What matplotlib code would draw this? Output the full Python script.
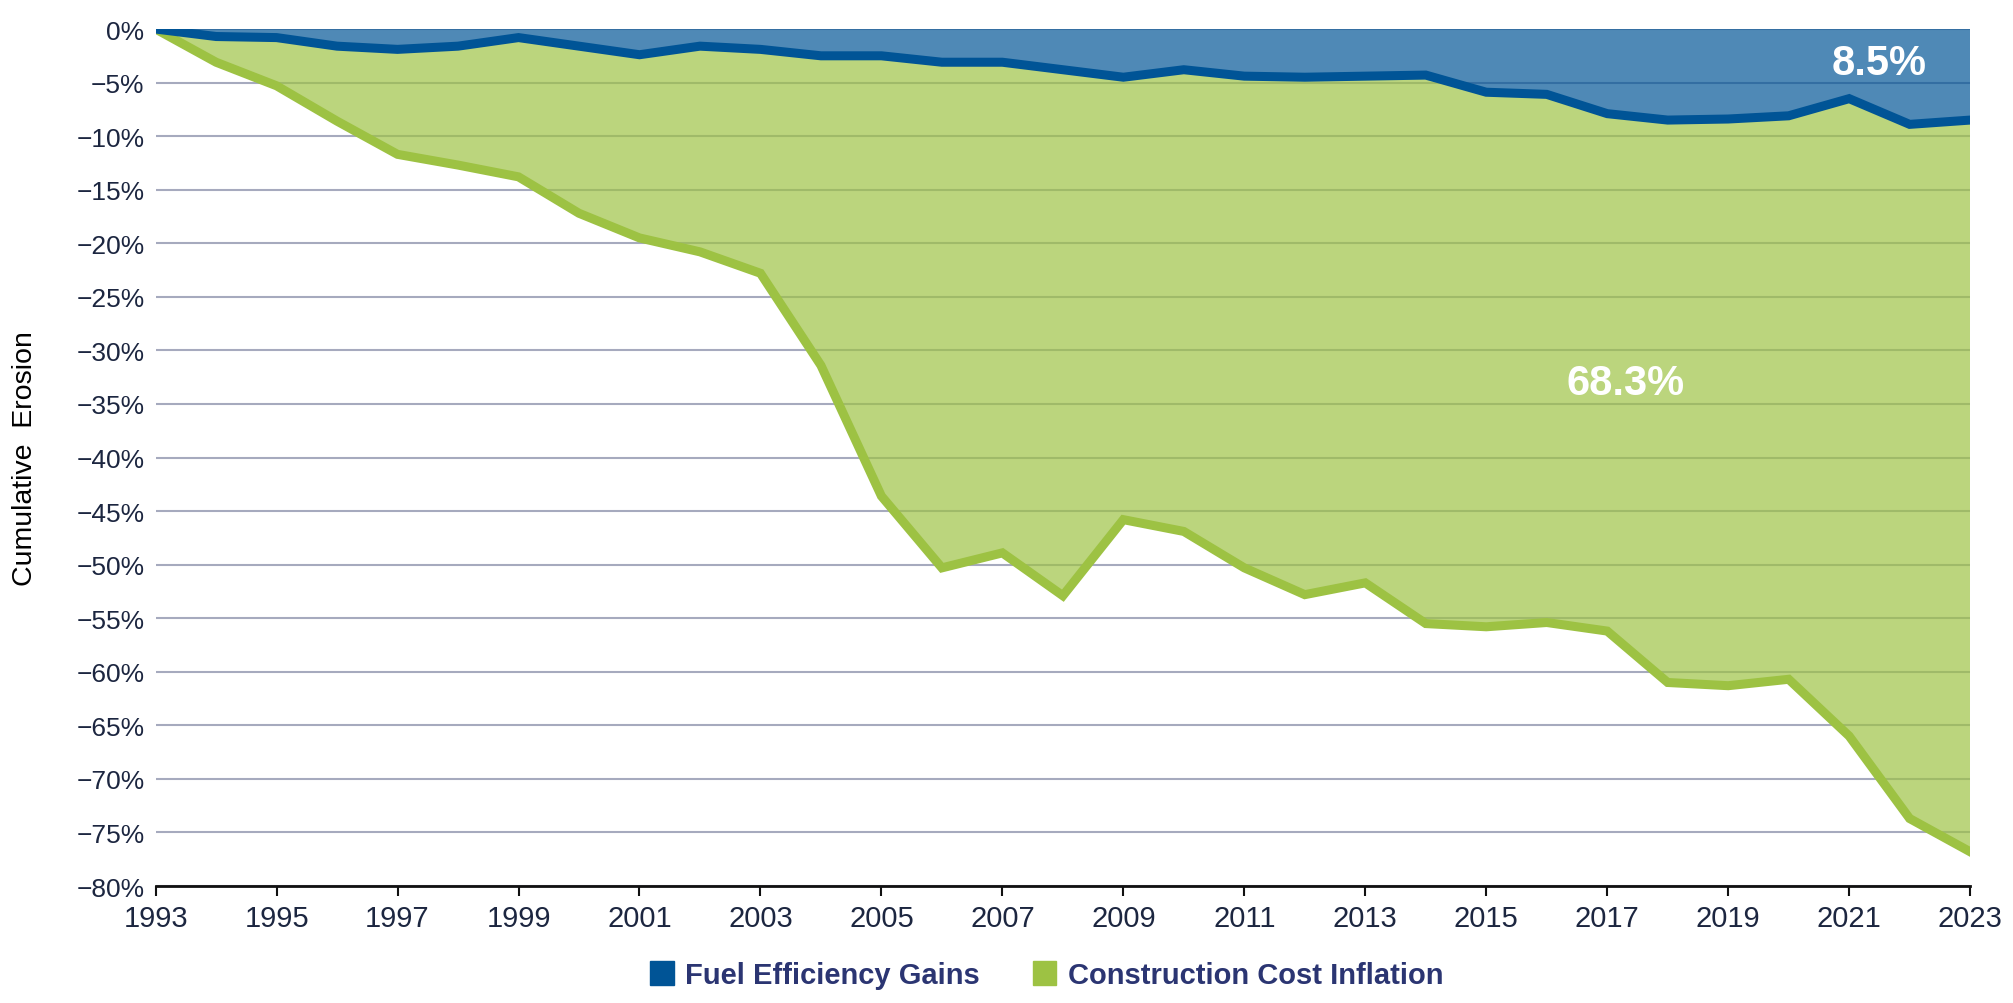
import matplotlib
matplotlib.use('Agg')
import matplotlib.pyplot as plt
from matplotlib.patches import Patch
from matplotlib.ticker import FuncFormatter

# data (cumulative erosion, %)
years = list(range(1993, 2024))
fuel_gains = [0, -0.7, -0.8, -1.6, -1.9, -1.6, -0.8, -1.6, -2.4, -1.6,
              -1.9, -2.5, -2.5, -3.1, -3.1, -3.8, -4.5, -3.8, -4.4, -4.5,
              -4.4, -4.3, -5.9, -6.1, -7.9, -8.5, -8.4, -8.1, -6.5, -8.9, -8.5]
construction_inflation = [0, -2.4, -4.5, -7.0, -9.8, -11.1, -13.0, -15.6, -17.1, -19.2,
                          -20.9, -28.9, -41.1, -47.2, -45.8, -49.1, -41.3, -43.1, -45.9, -48.3,
                          -47.3, -51.2, -49.9, -49.3, -48.3, -52.5, -52.9, -52.6, -59.5, -64.8, -68.3]
series_names = ['Fuel Efficiency Gains', 'Construction Cost Inflation']
xtick_years = list(range(1993, 2024, 2))
ytick_values = list(range(0, -85, -5))

blue = '#005496'
green = '#9dc243'
label_col = '#1c2640'

plt.rcParams['font.family'] = ['Liberation Sans Narrow', 'Liberation Sans', 'DejaVu Sans']

fig = plt.figure(figsize=(20.13, 10.04), dpi=100)
ax = fig.add_axes([0.0773, 0.1165, 0.9014, 0.8536])

total = [f + c for f, c in zip(fuel_gains, construction_inflation)]

# stacked areas, then the two outlines on top
ax.stackplot(years, fuel_gains, construction_inflation, colors=[blue, green], alpha=0.69,
             linewidth=0, zorder=2)
ax.plot(years, total, color=green, linewidth=6.5, solid_joinstyle='miter', zorder=3)
ax.plot(years, fuel_gains, color=blue, linewidth=6.5, solid_joinstyle='miter', zorder=4)

ax.set_xlim(1993, 2023)
ax.set_ylim(-80, 0)
ax.set_xticks(xtick_years)
ax.set_yticks(ytick_values)
ax.yaxis.set_major_formatter(FuncFormatter(lambda v, p: f'{v:.0f}%'.replace('-', '\u2212')))
ax.grid(axis='y', color='#a6aabe', linewidth=1.5, zorder=1)
ax.set_axisbelow(True)

for s in ['top', 'right', 'left']:
    ax.spines[s].set_visible(False)
ax.spines['bottom'].set_linewidth(2)
ax.spines['bottom'].set_color('#111111')
ax.spines['bottom'].set_zorder(5)

ax.tick_params(axis='y', length=0, pad=8, labelsize=19, labelcolor=label_col)
ax.tick_params(axis='x', length=7, width=1.5, color='#111111', pad=6,
               labelsize=21, labelcolor=label_col)

ax.set_ylabel('Cumulative  Erosion', fontsize=20.5, family=['Liberation Sans', 'DejaVu Sans'],
              color='black')
ax.yaxis.set_label_coords(-0.0646, 0.5)

ax.text(2021.5, -3.2, '8.5%', color='white', fontsize=30, fontweight='bold',
        family=['Liberation Sans', 'DejaVu Sans'], ha='center', va='center', zorder=6)
ax.text(2017.3, -33.0, '68.3%', color='white', fontsize=30, fontweight='bold',
        family=['Liberation Sans', 'DejaVu Sans'], ha='center', va='center', zorder=6)

handles = [Patch(color=blue), Patch(color=green)]
fig.legend(handles, series_names, loc='lower center', bbox_to_anchor=(0.52, -0.012),
           ncol=2, frameon=False, handlelength=0.8, handleheight=0.9, handletextpad=0.4,
           columnspacing=1.8, prop={'family': ['Liberation Sans Narrow', 'Liberation Sans'],
                                    'weight': 'bold', 'size': 21},
           labelcolor='#2b3572')

fig.savefig('out.png', dpi=100)
